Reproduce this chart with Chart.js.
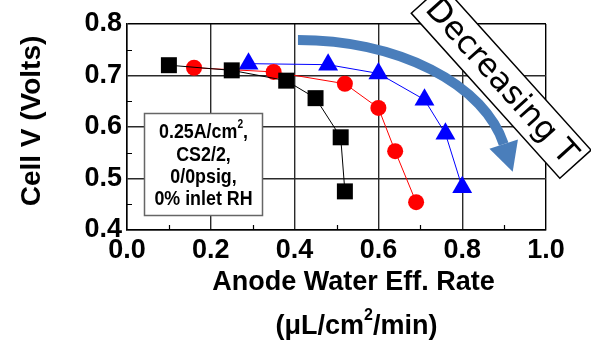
<!DOCTYPE html>
<html>
<head>
<meta charset="utf-8">
<script src="https://cdn.jsdelivr.net/npm/chart.js@4.4.1/dist/chart.umd.min.js"></script>
<style>
  html, body { margin: 0; padding: 0; background: #fff; }
  canvas { display: block; }
</style>
</head>
<body>
<canvas id="waterChart" width="591" height="341"></canvas>
<script>
// Anode water effluent rate vs cell voltage, three temperatures
const squareRate = [0.10, 0.25, 0.38, 0.45, 0.51, 0.52];
const squareVolts = [0.72, 0.71, 0.69, 0.656, 0.58, 0.475];
const circleRate = [0.16, 0.35, 0.52, 0.60, 0.64, 0.69];
const circleVolts = [0.715, 0.707, 0.684, 0.637, 0.553, 0.454];
const triangleRate = [0.29, 0.48, 0.60, 0.71, 0.76, 0.80];
const triangleVolts = [0.723, 0.721, 0.704, 0.653, 0.587, 0.483];

const xTickLabels = ['0.0', '0.2', '0.4', '0.6', '0.8', '1.0'];
const yTickLabels = ['0.4', '0.5', '0.6', '0.7', '0.8'];
const xMinorTicks = [0.1, 0.3, 0.5, 0.7, 0.9];
const yMinorTicks = [0.45, 0.55, 0.65, 0.75];
const conditionLines = ['0.25A/cm2,', 'CS2/2,', '0/0psig,', '0% inlet RH'];

const BOLD = 'bold 27px "Liberation Sans", Arial, sans-serif';

function points(xs, ys) {
    return xs.map((x, i) => ({ x: x, y: ys[i] }));
}

// minor ticks pointing into the plot
const minorTicks = {
    id: 'minorTicks',
    beforeDatasetsDraw(chart) {
        const { ctx, chartArea, scales } = chart;
        ctx.save();
        ctx.strokeStyle = '#000';
        ctx.lineWidth = 1.2;
        ctx.beginPath();
        xMinorTicks.forEach(v => {
            const px = Math.round(scales.x.getPixelForValue(v)) + 0.5;
            ctx.moveTo(px, chartArea.bottom);
            ctx.lineTo(px, chartArea.bottom - 5);
        });
        yMinorTicks.forEach(v => {
            const py = Math.round(scales.y.getPixelForValue(v)) + 0.5;
            ctx.moveTo(chartArea.left, py);
            ctx.lineTo(chartArea.left + 5, py);
        });
        ctx.stroke();
        ctx.restore();
    }
};

// draws text with a raised "2" after the given prefix
function drawWithSquare(ctx, before, after, x, y, font, smallFont, rise) {
    ctx.font = font;
    const w1 = ctx.measureText(before).width;
    const w3 = ctx.measureText(after).width;
    ctx.font = smallFont;
    const w2 = ctx.measureText('2').width;
    let left = x - (w1 + w2 + w3) / 2;
    ctx.textAlign = 'left';
    ctx.font = font;
    ctx.fillText(before, left, y);
    ctx.font = smallFont;
    ctx.fillText('2', left + w1, y - rise);
    ctx.font = font;
    ctx.fillText(after, left + w1 + w2, y);
}

const decorations = {
    id: 'decorations',
    afterDraw(chart) {
        const { ctx, chartArea, scales } = chart;
        const sx = v => scales.x.getPixelForValue(v);
        const sy = v => scales.y.getPixelForValue(v);
        ctx.save();
        ctx.fillStyle = '#000';
        ctx.textBaseline = 'middle';

        // axis titles
        const midX = (chartArea.left + chartArea.right) / 2 + 17;
        ctx.font = BOLD;
        ctx.textAlign = 'center';
        ctx.fillText('Anode Water Eff. Rate', midX, chartArea.bottom + 53);
        drawWithSquare(ctx, '(\u03BCL/cm', '/min)', midX + 3, chartArea.bottom + 97,
            BOLD, 'bold 16px "Liberation Sans", Arial, sans-serif', 11);

        ctx.save();
        ctx.translate(32, (chartArea.top + chartArea.bottom) / 2 - 6);
        ctx.rotate(-Math.PI / 2);
        ctx.font = 'bold 28px "Liberation Sans", Arial, sans-serif';
        ctx.textAlign = 'center';
        ctx.fillText('Cell V (Volts)', 0, 0);
        ctx.restore();

        // test conditions box
        const bx = Math.round(sx(0.041)) + 0.5, by = Math.round(sy(0.627)) + 0.5;
        const bw = Math.round(sx(0.322) - sx(0.041)), bh = Math.round(sy(0.429) - sy(0.627));
        ctx.fillStyle = '#fff';
        ctx.fillRect(bx, by, bw, bh);
        ctx.strokeStyle = '#666';
        ctx.lineWidth = 1.5;
        ctx.strokeRect(bx, by, bw, bh);
        ctx.fillStyle = '#000';
        const cx = bx + bw / 2;
        const boxFont = 'bold 21px "Liberation Sans", Arial, sans-serif';
        conditionLines.forEach((line, i) => {
            const ly = by + 19 + i * 22.3;
            ctx.save();
            ctx.translate(cx, ly);
            ctx.scale(0.85, 1);
            if (line.indexOf('cm2') >= 0) {
                drawWithSquare(ctx, '0.25A/cm', ',', 0, 0, boxFont,
                    'bold 12px "Liberation Sans", Arial, sans-serif', 8);
            } else {
                ctx.font = boxFont;
                ctx.textAlign = 'center';
                ctx.fillText(line, 0, 0);
            }
            ctx.restore();
        });

        // curved arrow showing the temperature trend
        const ax = sx(0.408), ay = sy(0.5165);
        const rx = sx(0.909) - ax, ry = sy(0.2641) - ay;
        const endA = -0.2;
        ctx.strokeStyle = '#4a7ebb';
        ctx.fillStyle = '#4a7ebb';
        ctx.lineWidth = 10;
        ctx.beginPath();
        ctx.ellipse(ax, ay, rx, Math.abs(ry), 0, -Math.PI / 2, endA);
        ctx.stroke();
        const px = ax + rx * Math.cos(endA), py = ay + Math.abs(ry) * Math.sin(endA);
        let tx = -rx * Math.sin(endA), ty = Math.abs(ry) * Math.cos(endA);
        const tl = Math.hypot(tx, ty);
        tx /= tl; ty /= tl;
        ctx.beginPath();
        ctx.moveTo(px + tx * 29, py + ty * 29);
        ctx.lineTo(px + ty * 15, py - tx * 15);
        ctx.lineTo(px - ty * 15, py + tx * 15);
        ctx.closePath();
        ctx.fill();

        // rotated label
        ctx.save();
        ctx.translate(sx(0.893), sy(0.688));
        ctx.rotate(48 * Math.PI / 180);
        ctx.fillStyle = '#fff';
        ctx.fillRect(-111, -21, 222, 42);
        ctx.strokeStyle = '#000';
        ctx.lineWidth = 1.5;
        ctx.strokeRect(-111, -21, 222, 42);
        ctx.fillStyle = '#000';
        ctx.font = '32px "DejaVu Sans", sans-serif';
        ctx.textAlign = 'center';
        ctx.fillText('Decreasing T', 0, 1);
        ctx.restore();

        ctx.restore();
    }
};

const frameColor = max => c => (c.tick && Math.abs(c.tick.value - max) < 1e-6) ? '#000' : '#2a2a2a';

new Chart(document.getElementById('waterChart'), {
    type: 'scatter',
    data: {
        datasets: [
            {
                data: points(squareRate, squareVolts),
                showLine: true,
                borderColor: '#000',
                backgroundColor: '#000',
                borderWidth: 1,
                pointStyle: 'rect',
                pointRadius: 11.3,
                pointBorderWidth: 0
            },
            {
                data: points(circleRate, circleVolts),
                showLine: true,
                borderColor: '#ff0000',
                backgroundColor: '#ff0000',
                borderWidth: 1,
                pointStyle: 'circle',
                pointRadius: 8,
                pointBorderWidth: 0
            },
            {
                data: points(triangleRate, triangleVolts),
                showLine: true,
                borderColor: '#0000ff',
                backgroundColor: '#0000ff',
                borderWidth: 1,
                pointStyle: 'triangle',
                pointRadius: 11.5,
                pointBorderWidth: 0
            }
        ]
    },
    options: {
        responsive: false,
        animation: false,
        devicePixelRatio: 1,
        layout: { padding: { left: 0, top: 24, right: 45, bottom: 0 } },
        plugins: { legend: { display: false }, tooltip: { enabled: false } },
        scales: {
            x: {
                type: 'linear',
                min: 0,
                max: 1,
                afterFit: s => { s.height = 111; },
                ticks: {
                    stepSize: 0.2,
                    padding: 4,
                    color: '#000',
                    font: { family: '"Liberation Sans", Arial, sans-serif', size: 27, weight: 'bold' },
                    maxRotation: 0,
                    autoSkip: false,
                    callback: v => xTickLabels[Math.round(v * 5)]
                },
                grid: { color: frameColor(1), lineWidth: 1.4, drawTicks: false },
                border: { color: '#000', width: 1.5 }
            },
            y: {
                type: 'linear',
                min: 0.4,
                max: 0.8,
                afterFit: s => { s.width = 127; },
                ticks: {
                    stepSize: 0.1,
                    padding: 5,
                    color: '#000',
                    font: { family: '"Liberation Sans", Arial, sans-serif', size: 27, weight: 'bold' },
                    autoSkip: false,
                    callback: v => yTickLabels[Math.round((v - 0.4) * 10)]
                },
                grid: { color: frameColor(0.8), lineWidth: 1.4, drawTicks: false },
                border: { color: '#000', width: 1.5 }
            }
        }
    },
    plugins: [minorTicks, decorations]
});
</script>
</body>
</html>
